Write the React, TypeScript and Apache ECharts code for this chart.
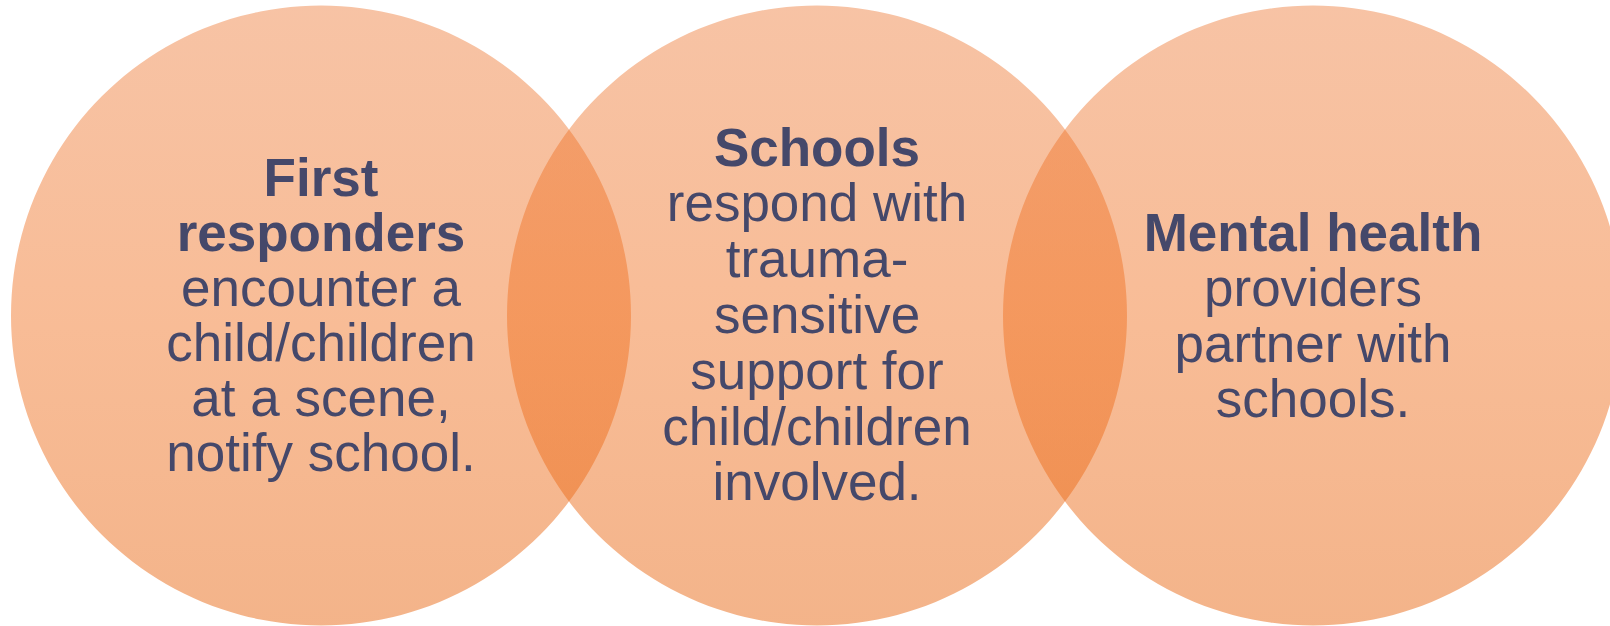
import React, { useEffect, useRef } from "react";
import * as echarts from "echarts";

// Texts of the three circles
const leftTitle = ["First", "responders"];
const leftBody = ["encounter a", "child/children", "at a scene,", "notify school."];
const middleTitle = ["Schools"];
const middleBody = ["respond with", "trauma-", "sensitive", "support for", "child/children", "involved."];
const rightTitle = ["Mental health"];
const rightBody = ["providers", "partner with", "schools."];

const W = 1610;
const H = 626;
const R = 310;
const CY = 315.5;
const TEXT_COLOR = "#45486a";
const FONT = "'Liberation Sans', Arial, Helvetica, sans-serif";
const FONT_SIZE = 53;

function circleFill() {
  return new echarts.graphic.LinearGradient(0, 0, 0, 1, [
    { offset: 0, color: "rgba(236,112,40,0.42)" },
    { offset: 0.5, color: "rgba(240,110,28,0.46)" },
    { offset: 1, color: "rgba(232,104,20,0.5)" },
  ]);
}

function textLines(title: string[], body: string[], cx: number, firstBaseline: number, step: number) {
  const all = [
    ...title.map((t) => ({ t, bold: true })),
    ...body.map((t) => ({ t, bold: false })),
  ];
  return all.map((l, i) => ({
    type: "text",
    x: cx,
    y: firstBaseline + i * step - FONT_SIZE * 0.3465,
    style: {
      text: l.t,
      fill: TEXT_COLOR,
      font: `${l.bold ? "bold " : ""}${FONT_SIZE}px ${FONT}`,
      fontFamily: FONT,
      fontSize: FONT_SIZE,
      fontWeight: l.bold ? "bold" : "normal",
      align: "center",
      verticalAlign: "middle",
    },
    z: 10,
  }));
}

export default function App() {
  const ref = useRef<HTMLDivElement>(null);
  useEffect(() => {
    document.body.style.margin = "0";
    if (!ref.current) return;
    const chart = echarts.init(ref.current, null, { renderer: "svg" });
    const centers = [321, 817, 1313];
    const circles = centers.map((cx) => ({
      type: "circle",
      shape: { cx, cy: CY, r: R },
      style: { fill: circleFill() },
      z: 1,
    }));
    chart.setOption({
      animation: false,
      backgroundColor: "#ffffff",
      graphic: {
        elements: [
          ...circles,
          ...textLines(leftTitle, leftBody, 321, 195.5, 55),
          ...textLines(middleTitle, middleBody, 817, 165.5, 55.8),
          ...textLines(rightTitle, rightBody, 1313, 250.5, 55.5),
        ],
      },
    });
    return () => chart.dispose();
  }, []);
  return <div ref={ref} style={{ width: W, height: H }} />;
}
